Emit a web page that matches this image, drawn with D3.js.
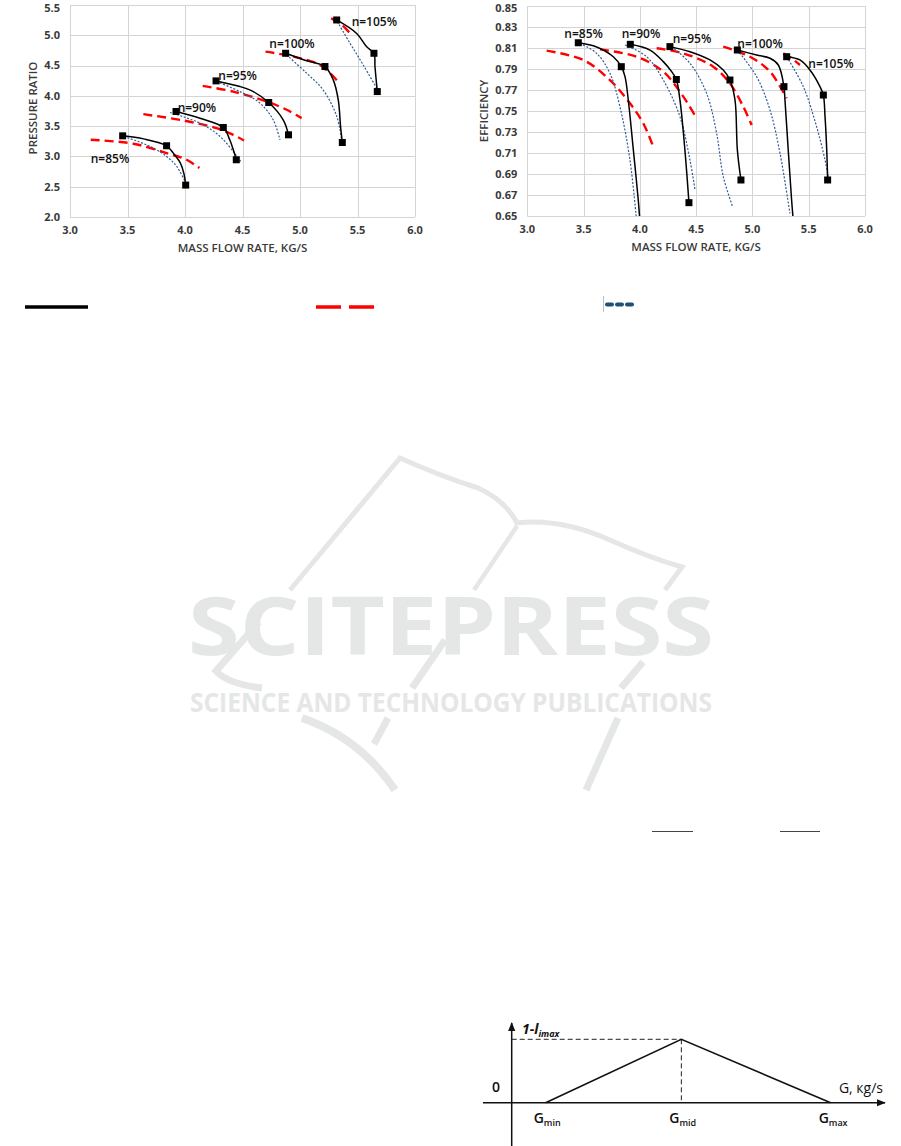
<!DOCTYPE html>
<html><head><meta charset="utf-8">
<script src="https://cdn.jsdelivr.net/npm/d3@7/dist/d3.min.js"></script>
<style>
html,body{margin:0;padding:0;background:#fff;}
svg{display:block;}
text{font-family:"Open Sans","Liberation Sans",sans-serif;}
</style></head>
<body>
<svg id="c" width="901" height="1146"></svg>
<script>
// ---------- DATA ----------
const speedLabels = ["n=85%", "n=90%", "n=95%", "n=100%", "n=105%"];
const xTicks = [3.0, 3.5, 4.0, 4.5, 5.0, 5.5, 6.0];
const prTicks = [2.0, 2.5, 3.0, 3.5, 4.0, 4.5, 5.0, 5.5];
const effTicks = [0.65, 0.67, 0.69, 0.71, 0.73, 0.75, 0.77, 0.79, 0.81, 0.83, 0.85];

// Pressure ratio: experiment (black solid)
const prExp = [
  [[3.458,3.34],[3.64,3.29],[3.84,3.176],[3.9,3.05],[3.96,2.89],[3.99,2.72],[4.006,2.527]],
  [[3.922,3.742],[4.13,3.63],[4.333,3.478],[4.39,3.27],[4.42,3.11],[4.446,2.945]],
  [[4.27,4.247],[4.478,4.154],[4.594,4.07],[4.728,3.89],[4.855,3.60],[4.90,3.357]],
  [[4.875,4.703],[5.058,4.58],[5.217,4.484],[5.29,4.26],[5.333,3.93],[5.353,3.49],[5.368,3.23]],
  [[5.319,5.253],[5.493,5.03],[5.58,4.81],[5.643,4.703],[5.652,4.48],[5.672,4.071]]
];
const prMarkers = [
  [3.458,3.34],[3.84,3.176],[4.006,2.527],
  [3.922,3.742],[4.333,3.478],[4.446,2.945],
  [4.27,4.247],[4.728,3.89],[4.90,3.357],
  [4.875,4.703],[5.217,4.484],[5.368,3.23],
  [5.319,5.253],[5.643,4.703],[5.672,4.071]
];
// Pressure ratio: model 1 (red dashed)
const prRed = [
  [[3.18,3.275],[3.551,3.21],[3.84,3.055],[4.014,2.945],[4.125,2.808]],
  [[3.638,3.698],[3.986,3.593],[4.275,3.467],[4.42,3.357],[4.513,3.264]],
  [[4.154,4.165],[4.42,4.07],[4.71,3.907],[4.884,3.77],[5.014,3.632]],
  [[4.70,4.73],[4.942,4.648],[5.174,4.51],[5.325,4.247]],
  [[5.27,5.28],[5.348,5.198],[5.435,5.033]]
];
// Pressure ratio: model 2 (blue dotted)
const prBlue = [
  [[3.47,3.33],[3.696,3.165],[3.84,3.0],[3.928,2.835],[4.0,2.588]],
  [[3.87,3.725],[4.13,3.55],[4.304,3.33],[4.42,3.08],[4.484,2.918]],
  [[4.275,4.236],[4.478,4.07],[4.652,3.88],[4.768,3.6],[4.826,3.275]],
  [[4.884,4.676],[5.058,4.374],[5.2,4.1],[5.32,3.66],[5.362,3.275]],
  [[5.325,5.225],[5.435,4.868],[5.55,4.51],[5.667,4.126]]
];
const prLabelX = [3.18, 3.936, 4.29, 4.733, 5.449];
const prLabelY = [2.953, 3.805, 4.328, 4.856, 5.225];

// Efficiency: experiment (black solid)
const effExp = [
  [[3.453,0.815],[3.616,0.811],[3.764,0.8017],[3.835,0.7922],[3.868,0.7827],[3.897,0.7605],[3.942,0.713],[3.986,0.665],[4.0,0.645]],
  [[3.915,0.8135],[4.09,0.808],[4.208,0.797],[4.282,0.7875],[4.324,0.780],[4.356,0.7605],[4.40,0.713],[4.436,0.6627]],
  [[4.267,0.8113],[4.445,0.8065],[4.623,0.7986],[4.741,0.789],[4.80,0.7795],[4.845,0.7605],[4.866,0.713],[4.898,0.6843]],
  [[4.866,0.8081],[5.037,0.8033],[5.156,0.8002],[5.23,0.7938],[5.28,0.7732],[5.289,0.7605],[5.318,0.713],[5.348,0.6652],[5.363,0.645]],
  [[5.304,0.8017],[5.422,0.7986],[5.511,0.789],[5.6,0.7732],[5.63,0.7652],[5.645,0.7446],[5.66,0.713],[5.668,0.6843]]
];
const effMarkers = [
  [3.453,0.815],[3.835,0.7922],
  [3.915,0.8135],[4.324,0.780],[4.436,0.6627],
  [4.267,0.8113],[4.80,0.7795],[4.898,0.6843],
  [4.866,0.8081],[5.28,0.7732],
  [5.304,0.8017],[5.63,0.7652],[5.668,0.6843]
];
// Efficiency: model 1 (red dashed)
const effRed = [
  [[3.172,0.8075],[3.497,0.7986],[3.734,0.7795],[3.912,0.7573],[4.03,0.7383],[4.119,0.716]],
  [[3.646,0.8087],[3.97,0.8017],[4.208,0.7875],[4.386,0.7637],[4.504,0.743]],
  [[4.149,0.8097],[4.386,0.8049],[4.652,0.7922],[4.8,0.7763],[4.919,0.7541],[4.993,0.7367]],
  [[4.741,0.8113],[4.978,0.8017],[5.156,0.7875],[5.304,0.7621]],
  [[5.274,0.8049],[5.35,0.8],[5.422,0.7938]]
];
// Efficiency: model 2 (blue dotted)
const effBlue = [
  [[3.468,0.8144],[3.616,0.8049],[3.734,0.7859],[3.823,0.7541],[3.912,0.7033],[3.971,0.645]],
  [[3.868,0.8129],[4.06,0.8017],[4.208,0.7795],[4.356,0.7446],[4.445,0.7033],[4.49,0.6748]],
  [[4.282,0.8113],[4.445,0.7954],[4.593,0.7668],[4.682,0.7287],[4.741,0.6875],[4.824,0.6589]],
  [[4.866,0.8081],[5.037,0.7827],[5.156,0.751],[5.245,0.7097],[5.333,0.6525]],
  [[5.304,0.8017],[5.452,0.7732],[5.57,0.7351],[5.645,0.7033],[5.674,0.6875]]
];
const effLabelX = [3.329, 3.839, 4.292, 4.866, 5.496];
const effLabelY = [0.824, 0.824, 0.8186, 0.8141, 0.7945];

// Lower diagram (schematic)
const diagX = ["Gmin", "Gmid", "Gmax"];
const diagXVal = [1, 5, 9.4];
const diagYVal = [0, 1, 0];

// ---------- DRAW ----------
const svg = d3.select("#c");
svg.append("rect").attr("width",901).attr("height",1146).attr("fill","#fff");

const gridCol = "#d4d4d4";
const textCol = "#3a3a3a";

function chart(o){
  const g = svg.append("g");
  const x = d3.scaleLinear().domain([3,6]).range(o.xr);
  const y = d3.scaleLinear().domain(o.yd).range(o.yr);
  const clipId = "clip"+o.id;
  svg.append("clipPath").attr("id",clipId).append("rect")
    .attr("x",o.xr[0]).attr("y",o.yr[1]-2).attr("width",o.xr[1]-o.xr[0]+2).attr("height",o.yr[0]-o.yr[1]+2);
  // grid
  g.selectAll(".hg").data(o.yt).enter().append("line")
    .attr("x1",o.xr[0]).attr("x2",o.xr[1]).attr("y1",d=>Math.round(y(d))+0.5).attr("y2",d=>Math.round(y(d))+0.5)
    .attr("stroke",gridCol).attr("stroke-width",1);
  g.selectAll(".vg").data(xTicks).enter().append("line")
    .attr("y1",o.yr[0]).attr("y2",o.yr[1]).attr("x1",d=>Math.round(x(d))+0.5).attr("x2",d=>Math.round(x(d))+0.5)
    .attr("stroke",gridCol).attr("stroke-width",1);
  // tick labels
  g.selectAll(".yl").data(o.yt).enter().append("text")
    .attr("x",o.xr[0]-10).attr("y",d=>Math.max(y(d),8.5)).attr("dy","0.35em").attr("text-anchor","end")
    .attr("font-size",11).attr("font-weight",700).attr("fill",textCol).text(d=>d3.format(o.fmt)(d));
  g.selectAll(".xl").data(xTicks).enter().append("text")
    .attr("x",d=>x(d)).attr("y",o.yr[0]+17).attr("text-anchor","middle")
    .attr("font-size",11).attr("font-weight",700).attr("fill",textCol).text(d=>d3.format(".1f")(d));
  // titles
  g.append("text").attr("x",(o.xr[0]+o.xr[1])/2).attr("y",o.yr[0]+35).attr("text-anchor","middle")
    .attr("font-size",11.5).attr("font-weight",600).attr("fill",textCol).text("MASS FLOW RATE, KG/S");
  g.append("text").attr("transform",`translate(${o.ytx},${o.yty}) rotate(-90)`).attr("text-anchor","middle")
    .attr("font-size",11.5).attr("font-weight",600).attr("fill",textCol).text(o.ytitle);

  const line = d3.line().x(d=>x(d[0])).y(d=>y(d[1])).curve(d3.curveCatmullRom.alpha(0.5));
  const pg = g.append("g").attr("clip-path",`url(#${clipId})`);
  pg.selectAll(".red").data(o.red).enter().append("path").attr("d",line)
    .attr("fill","none").attr("stroke","#ff0000").attr("stroke-width",2.4).attr("stroke-dasharray","9,5");
  pg.selectAll(".blue").data(o.blue).enter().append("path").attr("d",line)
    .attr("fill","none").attr("stroke","#2f5b97").attr("stroke-width",1.2).attr("stroke-dasharray","2,1.6");
  pg.selectAll(".blk").data(o.exp).enter().append("path").attr("d",line)
    .attr("fill","none").attr("stroke","#000").attr("stroke-width",1.5);
  pg.selectAll(".mk").data(o.mk).enter().append("rect")
    .attr("x",d=>x(d[0])-3.5).attr("y",d=>y(d[1])-3.5).attr("width",7).attr("height",7).attr("fill","#000");
  g.selectAll(".lab").data(speedLabels).enter().append("text")
    .attr("x",(d,i)=>x(o.lx[i])).attr("y",(d,i)=>y(o.ly[i])).attr("dy","0.35em")
    .attr("font-size",12).attr("font-weight",600).attr("fill","#111").text(d=>d);
}

chart({id:"pr", xr:[70,415], yd:[2,5.5], yr:[217,5], yt:prTicks, fmt:".1f",
  ytitle:"PRESSURE RATIO", ytx:37, yty:108,
  exp:prExp, mk:prMarkers, red:prRed, blue:prBlue, lx:prLabelX, ly:prLabelY});
chart({id:"eff", xr:[527.3,865], yd:[0.65,0.85], yr:[216,6], yt:effTicks, fmt:".2f",
  ytitle:"EFFICIENCY", ytx:488, yty:111,
  exp:effExp, mk:effMarkers, red:effRed, blue:effBlue, lx:effLabelX, ly:effLabelY});

// legend swatches
svg.append("line").attr("x1",25).attr("x2",88).attr("y1",307).attr("y2",307).attr("stroke","#000").attr("stroke-width",3.5);
svg.append("line").attr("x1",316).attr("x2",374).attr("y1",307).attr("y2",307).attr("stroke","#ff0000").attr("stroke-width",3.5).attr("stroke-dasharray","25,8");
svg.append("line").attr("x1",603.5).attr("x2",603.5).attr("y1",296).attr("y2",312).attr("stroke","#c0c0c0").attr("stroke-width",1);
svg.append("line").attr("x1",607).attr("x2",634).attr("y1",304.5).attr("y2",304.5).attr("stroke","#1f4e79").attr("stroke-width",4).attr("stroke-linecap","round").attr("stroke-dasharray","5,5");

// watermark
const wm = "#e5e6e6";
const wg = svg.append("g").attr("fill","none").attr("stroke",wm).attr("stroke-linecap","butt");
wg.append("path").attr("d","M290,590 L400,458 Q440,476 478,488 Q505,500 517,523 Q560,518 610,540 Q650,558 682,567 L665,590").attr("stroke-width",5);
wg.append("path").attr("d","M517,526 L474,590").attr("stroke-width",4.5);
wg.append("path").attr("d","M259,622 L216,671 Q228,684 262,688").attr("stroke-width",7);
wg.append("path").attr("d","M445,640 L412,688").attr("stroke-width",7);
wg.append("path").attr("d","M643,662 L621,688").attr("stroke-width",7);
wg.append("path").attr("d","M302,718 Q360,738 395,790").attr("stroke-width",8);
wg.append("path").attr("d","M388,718 L374,744").attr("stroke-width",7);
wg.append("path").attr("d","M618,718 L586,790").attr("stroke-width",7);
svg.append("text").attr("x",188).attr("y",655).attr("textLength",526).attr("lengthAdjust","spacingAndGlyphs")
  .attr("font-family","DejaVu Sans").attr("font-weight",700).attr("font-size",80).attr("fill",wm).text("SCITEPRESS");
svg.append("text").attr("x",190).attr("y",712).attr("textLength",522).attr("lengthAdjust","spacingAndGlyphs")
  .attr("font-family","DejaVu Sans").attr("font-weight",700).attr("font-size",27).attr("fill",wm).text("SCIENCE AND TECHNOLOGY PUBLICATIONS");

// small rules (fraction bars)
svg.append("line").attr("x1",652).attr("x2",693).attr("y1",831.5).attr("y2",831.5).attr("stroke","#444").attr("stroke-width",1);
svg.append("line").attr("x1",780).attr("x2",820).attr("y1",831.5).attr("y2",831.5).attr("stroke","#444").attr("stroke-width",1);

// lower schematic diagram
const dx = d3.scaleLinear().domain([0,10]).range([511.7,851]);
const dy = d3.scaleLinear().domain([0,1]).range([1102.7,1039.3]);
const dg = svg.append("g");
svg.append("defs").html('<marker id="arr" viewBox="0 0 10 10" refX="9" refY="5" markerWidth="6" markerHeight="6" orient="auto-start-reverse"><path d="M0,1 L10,5 L0,9 z" fill="#111"/></marker>');
dg.append("line").attr("x1",483).attr("x2",885).attr("y1",dy(0)).attr("y2",dy(0)).attr("stroke","#111").attr("stroke-width",1.5).attr("marker-end","url(#arr)");
dg.append("line").attr("x1",dx(0)).attr("x2",dx(0)).attr("y1",1146).attr("y2",1023).attr("stroke","#111").attr("stroke-width",1.5).attr("marker-end","url(#arr)");
dg.append("line").attr("x1",dx(0)).attr("x2",dx(diagXVal[1])).attr("y1",dy(1)).attr("y2",dy(1)).attr("stroke","#222").attr("stroke-width",1).attr("stroke-dasharray","5,3");
dg.append("line").attr("x1",dx(diagXVal[1])).attr("x2",dx(diagXVal[1])).attr("y1",dy(1)).attr("y2",dy(0)).attr("stroke","#222").attr("stroke-width",1).attr("stroke-dasharray","5,3");
dg.append("path").attr("d",d3.line().x((d,i)=>dx(diagXVal[i])).y(d=>dy(d))(diagYVal)).attr("fill","none").attr("stroke","#111").attr("stroke-width",1.6);
dg.selectAll(".gl").data(diagX).enter().append("text")
  .attr("x",(d,i)=>dx(diagXVal[i])-12).attr("y",1123).attr("font-size",14).attr("font-weight",600).attr("fill","#111")
  .each(function(d){ const t=d3.select(this); t.append("tspan").text("G"); t.append("tspan").attr("font-size",9).attr("dy",3).text(d.slice(1)); });
dg.append("text").attr("x",492).attr("y",1092).attr("font-size",14).attr("font-weight",600).attr("fill","#111").text("0");
dg.append("text").attr("x",883).attr("y",1093).attr("text-anchor","end").attr("font-size",14).attr("font-weight",500).attr("fill","#111").text("G, кg/s");
const tl = dg.append("text").attr("x",522).attr("y",1034).attr("font-size",14).attr("font-weight",700).attr("font-style","italic").attr("fill","#111");
tl.append("tspan").text("1-l");
tl.append("tspan").attr("font-size",9).attr("dy",3).text("imax");
</script>
</body></html>
